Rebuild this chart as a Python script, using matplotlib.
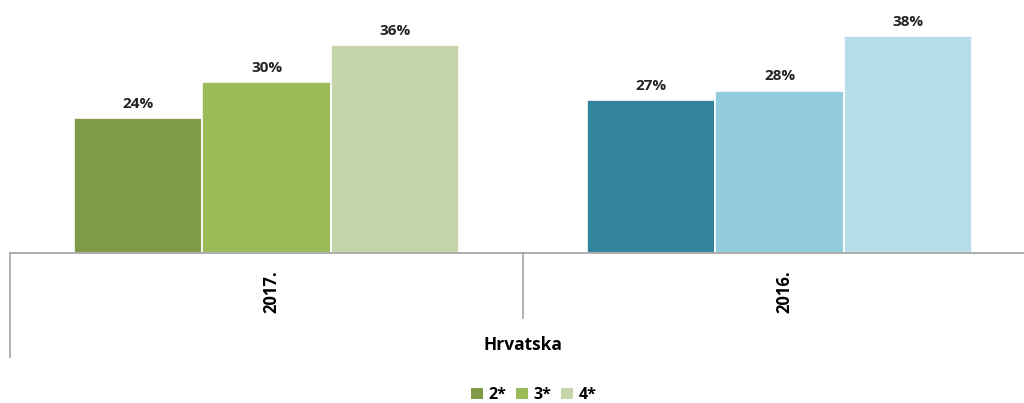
import matplotlib.pyplot as plt
from matplotlib.patches import Patch

plt.rcParams['font.family'] = ['Open Sans', 'DejaVu Sans']

# podaci (visine procijenjene sa slike, natpisi su zaokruženi)
years = ["2017.", "2016."]
stars = ["2*", "3*", "4*"]
values_2017 = [23.6, 29.9, 36.4]
values_2016 = [26.8, 28.4, 38.0]
region = "Hrvatska"

colors_2017 = ["#7f9a48", "#9bbb59", "#c7d6aa"]
colors_2016 = ["#31849b", "#93cddd", "#b7dee8"]

fig = plt.figure(figsize=(10.24, 4.03), dpi=100)
ax = fig.add_axes([10 / 1024, 150 / 403, 1026 / 1024, 253 / 403])

width = 0.25
groups = [(values_2017, colors_2017), (values_2016, colors_2016)]
for g, (vals, cols) in enumerate(groups):
    for i, (v, c) in enumerate(zip(vals, cols)):
        x = g + 0.5 + (i - 1) * width
        ax.bar(x, v, width=width, color=c, edgecolor="white", linewidth=1.2)
        ax.text(x, v + 1.3, f"{round(v)}%", ha="center", va="bottom",
                fontsize=11, fontweight="bold", color="#222222")

ax.set_xlim(0, 2)
ax.set_ylim(0, 44.3)
for s in ["top", "right", "left"]:
    ax.spines[s].set_visible(False)
ax.spines["bottom"].set_color("#a6a6a6")
ax.spines["bottom"].set_linewidth(1.3)
ax.set_yticks([])
ax.set_xticks([])

# hijerarhijska os kategorija
tr = ax.get_xaxis_transform()
ax.plot([0, 0], [0, -0.411], transform=tr, color="#a6a6a6", lw=1.2, clip_on=False)
ax.plot([1, 1], [0, -0.257], transform=tr, color="#a6a6a6", lw=1.2, clip_on=False)
for g, y in enumerate(years):
    ax.text(g + 0.51, -0.154, y, transform=tr, rotation=90, ha="center", va="center",
            fontsize=12, fontweight="bold", color="black")
ax.text(1.0, -0.364, region, transform=tr, ha="center", va="center",
        fontsize=12.5, fontweight="bold", color="black")

handles = [Patch(facecolor=c, edgecolor="none") for c in colors_2017]
fig.legend(handles, stars, loc="center", bbox_to_anchor=(534 / 1024, 1 - 395 / 403),
           ncol=3, frameon=False, handlelength=0.75, handleheight=0.75,
           handletextpad=0.35, columnspacing=0.6,
           prop={"weight": "bold", "size": 11.5})

fig.savefig("out.png", dpi=100)
